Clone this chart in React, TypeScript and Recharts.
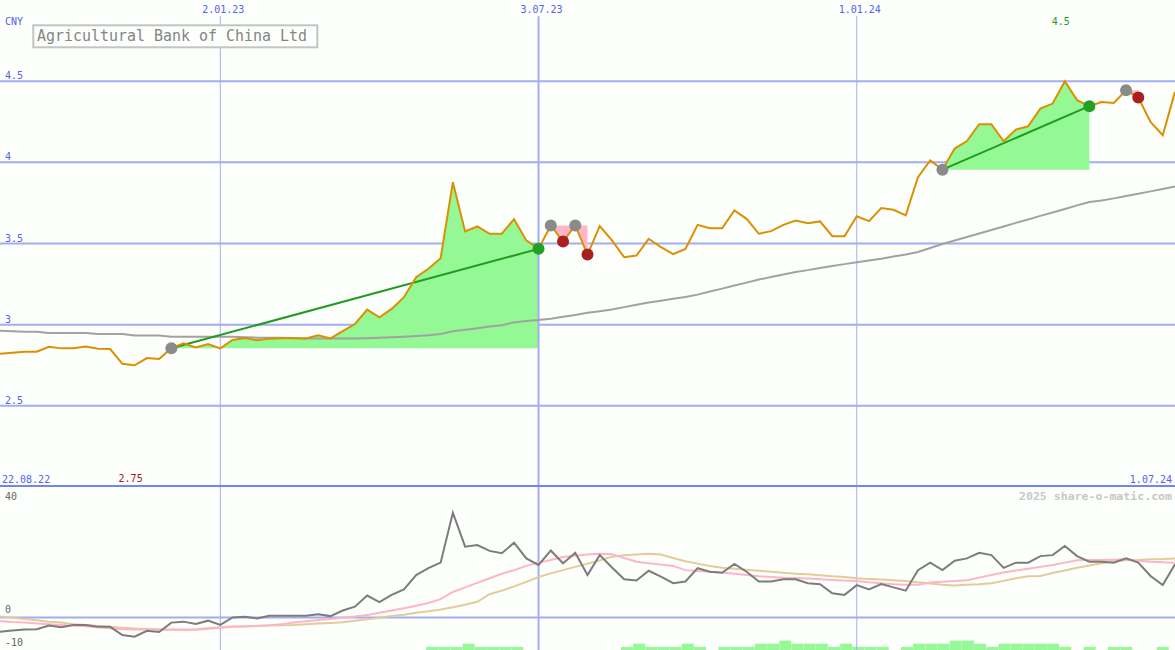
import React from 'react'
import { Area, Bar, CartesianGrid, ComposedChart, Line, ReferenceDot, ReferenceLine, Scatter, XAxis, YAxis } from 'recharts'

const W = 1175
const MAIN_H = 487
const LOWER_H = 163
const FONT = '"DejaVu Sans Mono", monospace'
const BLUE_TEXT = '#5462f0'
const GRID = '#a4acf2'

// weekly closes, one point per Monday (index 0 = left edge, 96 = 1.07.24)
const price = [
  2.821, 2.827, 2.833, 2.833, 2.864, 2.854, 2.855, 2.866, 2.852, 2.85,
  2.759, 2.75, 2.794, 2.788, 2.855, 2.885, 2.86, 2.881, 2.854, 2.906,
  2.918, 2.904, 2.914, 2.917, 2.917, 2.915, 2.934, 2.915, 2.96, 3.004,
  3.093, 3.045, 3.097, 3.169, 3.292, 3.344, 3.409, 3.878, 3.574, 3.605,
  3.56, 3.56, 3.65, 3.519, 3.467, 3.611, 3.512, 3.611, 3.432, 3.607,
  3.519, 3.415, 3.426, 3.529, 3.477, 3.434, 3.467, 3.615, 3.594, 3.594,
  3.704, 3.652, 3.56, 3.576, 3.615, 3.642, 3.625, 3.636, 3.545, 3.545,
  3.668, 3.638, 3.718, 3.708, 3.673, 3.909, 4.012, 3.955, 4.085, 4.131,
  4.235, 4.235, 4.13, 4.202, 4.222, 4.331, 4.362, 4.5, 4.383, 4.346,
  4.372, 4.366, 4.444, 4.399, 4.249, 4.167, 4.434
]

// long moving average (grey)
const movingAvg = [
  2.963, 2.96, 2.957, 2.957, 2.949, 2.949, 2.949, 2.949, 2.943, 2.943,
  2.943, 2.934, 2.934, 2.934, 2.926, 2.926, 2.926, 2.926, 2.926, 2.926,
  2.923, 2.92, 2.92, 2.92, 2.918, 2.915, 2.915, 2.915, 2.915, 2.915,
  2.917, 2.92, 2.923, 2.926, 2.93, 2.935, 2.943, 2.959, 2.969, 2.978,
  2.988, 2.997, 3.014, 3.022, 3.029, 3.037, 3.049, 3.059, 3.074, 3.083,
  3.093, 3.108, 3.123, 3.136, 3.148, 3.16, 3.17, 3.185, 3.204, 3.222,
  3.241, 3.259, 3.278, 3.293, 3.309, 3.324, 3.336, 3.349, 3.361, 3.373,
  3.385, 3.395, 3.406, 3.42, 3.432, 3.448, 3.472, 3.497, 3.519, 3.54,
  3.562, 3.583, 3.605, 3.627, 3.648, 3.67, 3.691, 3.713, 3.735, 3.756,
  3.765, 3.778, 3.793, 3.806, 3.821, 3.836, 3.852
]

// lower panel: distance from the average in % (dark grey)
const oscillator = [
  -4.4, -4.0, -3.7, -3.6, -2.5, -3.0, -2.3, -2.3, -2.9, -2.9,
  -5.4, -5.9, -4.1, -4.5, -1.6, -1.3, -2.0, -1.0, -2.3, 0.0,
  0.2, -0.3, 0.5, 0.5, 0.5, 0.5, 1.0, 0.4, 2.1, 3.3,
  6.7, 4.7, 6.9, 8.6, 13.0, 15.1, 16.8, 32.1, 21.7, 22.2,
  20.4, 19.7, 22.9, 18.1, 16.1, 20.5, 16.6, 19.8, 13.0, 19.1,
  15.3, 11.7, 11.3, 14.3, 12.5, 10.5, 11.0, 15.1, 14.0, 13.7,
  16.4, 14.0, 11.0, 11.0, 11.7, 11.7, 10.5, 10.2, 7.4, 6.9,
  9.9, 8.6, 10.2, 9.2, 8.2, 14.5, 16.8, 14.5, 17.4, 18.1,
  19.8, 19.1, 15.2, 16.8, 16.8, 18.8, 19.1, 21.9, 18.8, 17.1,
  17.1, 16.8, 18.1, 16.8, 12.7, 9.9, 16.3
]

// lower panel: fast average (pink)
const oscFast = [
  -1.1, -1.4, -1.6, -1.9, -2.1, -2.3, -2.5, -2.7, -3.0, -3.3,
  -3.6, -3.7, -3.7, -3.7, -3.7, -3.7, -3.6, -3.3, -3.0, -2.8,
  -2.7, -2.6, -2.4, -2.1, -1.6, -1.2, -0.8, -0.5, -0.1, 0.3,
  0.7, 1.4, 2.1, 2.8, 3.6, 4.4, 5.6, 7.8, 9.2, 10.6,
  12.0, 13.4, 14.5, 15.8, 16.8, 17.6, 18.5, 18.9, 19.3, 19.5,
  19.4, 18.2, 17.1, 16.6, 16.2, 15.8, 14.5, 14.2, 14.0, 13.8,
  13.4, 13.0, 12.6, 12.4, 12.2, 12.1, 11.9, 11.7, 11.5, 11.3,
  11.2, 10.8, 10.5, 10.2, 10.0, 10.0, 10.7, 10.9, 11.2, 11.4,
  12.2, 13.0, 13.8, 14.4, 14.9, 15.5, 16.1, 16.8, 17.5, 17.6,
  17.6, 17.7, 17.8, 17.4, 17.1, 16.9, 16.8
]

// lower panel: slow average (tan)
const oscSlow = [
  0.3, -0.1, -0.5, -0.9, -1.3, -1.6, -2.1, -2.3, -2.6, -2.9,
  -3.2, -3.4, -3.5, -3.7, -3.8, -3.9, -3.8, -3.5, -3.2, -2.9,
  -2.8, -2.6, -2.5, -2.4, -2.3, -2.1, -1.9, -1.7, -1.5, -1.0,
  -0.6, -0.1, 0.4, 0.8, 1.4, 1.9, 2.4, 3.1, 3.9, 4.8,
  7.1, 8.2, 9.5, 10.9, 12.4, 13.5, 14.5, 15.5, 16.5, 17.5,
  18.6, 19.1, 19.3, 19.5, 19.3, 18.2, 17.2, 16.5, 15.8, 15.2,
  14.9, 14.6, 14.3, 14.0, 13.7, 13.4, 13.2, 12.9, 12.6, 12.4,
  12.0, 11.8, 11.6, 11.4, 11.2, 10.8, 10.4, 10.0, 9.8, 10.0,
  10.2, 10.5, 11.2, 12.0, 12.6, 12.7, 13.6, 14.4, 15.2, 15.9,
  16.6, 17.3, 17.5, 17.6, 17.8, 17.9, 18.1
]

// green signal strength per week (0-3)
const signal = [
  0, 0, 0, 0, 0, 0, 0, 0, 0, 0,
  0, 0, 0, 0, 0, 0, 0, 0, 0, 0,
  0, 0, 0, 0, 0, 0, 0, 0, 0, 0,
  0, 0, 0, 0, 0, 1, 1, 1, 2, 1,
  1, 1, 1, 0, 0, 0, 0, 0, 0, 0,
  0, 1, 2, 1, 1, 1, 2, 1, 0, 1,
  1, 1, 2, 2, 3, 2, 2, 2, 1, 2,
  1, 1, 1, 0, 1, 2, 2, 2, 3, 3,
  2, 1, 2, 2, 2, 2, 2, 1, 0, 1,
  0, 1, 1, 0, 0, 1, 0
]

const buyWeeks = [14, 45, 47, 77, 92]
const sellWeeks = [44, 46, 48, 89, 93]

const priceTicks = [2.5, 3, 3.5, 4, 4.5]
const dateTicks = [18, 44, 70]
const dateLabels = ['2.01.23', '3.07.23', '1.01.24']
const dateLineWidths = [1, 2, 1]
const edgeTicks = [0, 96]
const edgeLabels = ['22.08.22', '1.07.24']
const oscTicks = [-10, 0, 40]

const trades = buyWeeks.map((b, k) => ({ b, s: sellWeeks[k], gain: price[sellWeeks[k]] >= price[b] }))

const rows = price.map((p, i) => {
  const row: any = {
    i,
    bi: i + 0.5,
    price: p,
    ma: movingAvg[i],
    osc: oscillator[i],
    fast: oscFast[i],
    slow: oscSlow[i],
    sig: signal[i],
    gain: null,
    loss: null
  }
  trades.forEach((t, k) => {
    const base = price[t.b]
    if (i >= t.b && i <= t.s) {
      if (t.gain) row.gain = [base, p]
      else row.loss = [p, base]
    }
    if (t.gain && (i === t.b || i === t.s)) row[`t${k}`] = p
  })
  return row
})

const grayDots = buyWeeks.map((i) => ({ i, v: price[i] }))
const greenDots = trades.filter((t) => t.gain).map((t) => ({ i: t.s, v: price[t.s] }))
const redDots = trades.filter((t) => !t.gain).map((t) => ({ i: t.s, v: price[t.s] }))

const minIdx = price.indexOf(Math.min(...price))
const maxIdx = price.indexOf(Math.max(...price))

const dot = (fill: string) => (p: any) => <circle cx={p.cx} cy={p.cy} r={6} fill={fill} />

function TopTick(p: any) {
  const k = dateTicks.indexOf(p.payload.value)
  return (
    <text x={p.x + 3} y={13} textAnchor="middle" fontSize={10} fontFamily={FONT} fill={BLUE_TEXT}>
      {dateLabels[k]}
    </text>
  )
}

function EdgeTick(p: any) {
  const k = edgeTicks.indexOf(p.payload.value)
  return (
    <text x={k === 0 ? p.x + 2 : p.x - 3} y={483} textAnchor={k === 0 ? 'start' : 'end'} fontSize={10} fontFamily={FONT} fill={BLUE_TEXT}>
      {edgeLabels[k]}
    </text>
  )
}

function PriceTick(p: any) {
  return (
    <text x={5} y={p.y - 2} fontSize={10} fontFamily={FONT} fill={BLUE_TEXT}>
      {String(p.payload.value)}
    </text>
  )
}

function OscTick(p: any) {
  const v = p.payload.value
  return (
    <text x={5} y={v === 40 ? p.y + 13 : p.y - 4} fontSize={10} fontFamily={FONT} fill="#666666">
      {String(v)}
    </text>
  )
}

const noMargin = { top: 0, right: 0, bottom: 0, left: 0 }

export default function App() {
  return (
    <div style={{ position: 'absolute', left: 0, top: 0, width: W, height: 650, background: '#fcfffc', overflow: 'hidden' }}>
      <ComposedChart width={W} height={MAIN_H} data={rows} margin={noMargin}>
        <CartesianGrid vertical={false} horizontalValues={priceTicks} stroke={GRID} strokeWidth={2} />
        <XAxis dataKey="i" type="number" domain={[0, 96]} orientation="top" mirror ticks={dateTicks} interval={0} axisLine={false} tickLine={false} tick={TopTick} />
        <XAxis xAxisId="edge" dataKey="i" type="number" domain={[0, 96]} orientation="bottom" mirror ticks={edgeTicks} interval={0} axisLine={false} tickLine={false} tick={EdgeTick} />
        <YAxis domain={[2, 5]} ticks={priceTicks} interval={0} mirror axisLine={false} tickLine={false} tick={PriceTick} />
        {dateTicks.map((t, k) => (
          <ReferenceLine key={t} segment={[{ x: t, y: 4.9 }, { x: t, y: 2 }]} stroke={GRID} strokeWidth={dateLineWidths[k]} />
        ))}
        <ReferenceLine y={2} stroke="#7484f0" strokeWidth={4} />
        <Area dataKey="gain" type="linear" stroke="none" fill="#94f894" fillOpacity={1} dot={false} activeDot={false} isAnimationActive={false} />
        <Area dataKey="loss" type="linear" stroke="none" fill="#ffb6c8" fillOpacity={1} dot={false} activeDot={false} isAnimationActive={false} />
        <Line dataKey="ma" type="linear" stroke="#a2a2a2" strokeWidth={2} dot={false} activeDot={false} isAnimationActive={false} />
        {trades.map((t, k) =>
          t.gain ? (
            <Line key={k} dataKey={`t${k}`} type="linear" connectNulls stroke="#229a22" strokeWidth={2} dot={false} activeDot={false} isAnimationActive={false} />
          ) : null
        )}
        <Scatter data={grayDots} dataKey="v" shape={dot('#8a8a8a')} isAnimationActive={false} />
        <Scatter data={redDots} dataKey="v" shape={dot('#a82020')} isAnimationActive={false} />
        <Line dataKey="price" type="linear" stroke="#dc9000" strokeWidth={2} dot={false} activeDot={false} isAnimationActive={false} />
        <Scatter data={greenDots} dataKey="v" shape={dot('#22a022')} isAnimationActive={false} />
        <ReferenceDot x={minIdx} y={2.05} r={0} fill="none" stroke="none" label={{ value: String(price[minIdx]), position: 'center', fill: '#a02020', fontSize: 10, fontFamily: FONT, dx: -4 }} />
        <ReferenceDot x={maxIdx} y={4.87} r={0} fill="none" stroke="none" label={{ value: String(price[maxIdx]), position: 'center', fill: '#229a22', fontSize: 10, fontFamily: FONT, dx: -4 }} />
      </ComposedChart>

      <ComposedChart width={W} height={LOWER_H} data={rows} margin={noMargin} barCategoryGap={0} barGap={0}>
        <CartesianGrid vertical={false} horizontalValues={[0]} stroke={GRID} strokeWidth={2} />
        <XAxis dataKey="i" type="number" domain={[0, 96]} hide />
        <XAxis xAxisId="bar" dataKey="bi" type="number" domain={[0, 96]} hide />
        <YAxis domain={[-10, 40]} ticks={oscTicks} interval={0} mirror axisLine={false} tickLine={false} tick={OscTick} />
        <YAxis yAxisId="sig" domain={[0, 52]} hide />
        {dateTicks.map((t, k) => (
          <ReferenceLine key={t} x={t} stroke={GRID} strokeWidth={dateLineWidths[k]} />
        ))}
        <Bar xAxisId="bar" yAxisId="sig" dataKey="sig" fill="#98f898" isAnimationActive={false} />
        <Line dataKey="slow" type="linear" stroke="#e2cc9c" strokeWidth={2} dot={false} activeDot={false} isAnimationActive={false} />
        <Line dataKey="fast" type="linear" stroke="#ffb4c8" strokeWidth={2} dot={false} activeDot={false} isAnimationActive={false} />
        <Line dataKey="osc" type="linear" stroke="#7c7c7c" strokeWidth={2} dot={false} activeDot={false} isAnimationActive={false} />
      </ComposedChart>

      <svg width={W} height={650} style={{ position: 'absolute', left: 0, top: 0, pointerEvents: 'none' }}>
        <text x={5} y={25} fontSize={10} fontFamily={FONT} fill={BLUE_TEXT}>CNY</text>
        <rect x={33.3} y={25.3} width={284} height={22} fill="#fcfffc" stroke="#c4c4c4" strokeWidth={2} />
        <text x={37} y={41} fontSize={15} fontFamily={FONT} fill="#858585" textLength={270} lengthAdjust="spacingAndGlyphs">
          Agricultural Bank of China Ltd
        </text>
        <text x={1019} y={500} fontSize={11} fontWeight="bold" fontFamily={FONT} fill="#c8c8c8" textLength={153} lengthAdjust="spacingAndGlyphs">
          2025 share-o-matic.com
        </text>
      </svg>
    </div>
  )
}
